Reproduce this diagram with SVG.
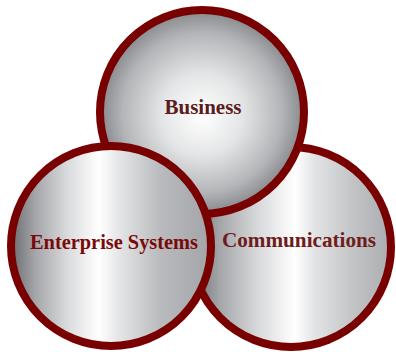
<svg xmlns="http://www.w3.org/2000/svg" width="396" height="352" viewBox="0 0 396 352">
<defs>
<radialGradient id="gBiz" cx="0.5" cy="0.5" r="0.5" fx="0.5" fy="0.52">
<stop offset="0" stop-color="#ffffff"/>
<stop offset="0.4" stop-color="#e4e5e6"/>
<stop offset="0.78" stop-color="#b3b5b8"/>
<stop offset="1" stop-color="#86888c"/>
</radialGradient>
<linearGradient id="gMetal" x1="0" y1="0" x2="1" y2="0">
<stop offset="0" stop-color="#6a6c70"/>
<stop offset="0.12" stop-color="#a3a5a8"/>
<stop offset="0.28" stop-color="#d9dadc"/>
<stop offset="0.44" stop-color="#ffffff"/>
<stop offset="0.55" stop-color="#e2e3e4"/>
<stop offset="0.75" stop-color="#b8babd"/>
<stop offset="1" stop-color="#a2a4a7"/>
</linearGradient>
<linearGradient id="gMetal2" x1="0" y1="0" x2="1" y2="0">
<stop offset="0" stop-color="#6a6c70"/>
<stop offset="0.14" stop-color="#a3a5a8"/>
<stop offset="0.34" stop-color="#d9dadc"/>
<stop offset="0.52" stop-color="#ffffff"/>
<stop offset="0.62" stop-color="#e2e3e4"/>
<stop offset="0.82" stop-color="#c0c2c4"/>
<stop offset="1" stop-color="#aaacaf"/>
</linearGradient>
</defs>
<style>
.ring{stroke:#780000;stroke-width:8}
.lbl{font-family:"Liberation Serif","Times New Roman",serif;font-weight:bold;font-size:20px;text-anchor:middle}
</style>
<g id="communications">
<circle class="ring" cx="291" cy="247" r="100" fill="url(#gMetal2)"/>
<text class="lbl" x="299" y="247" fill="#6e1c1c" textLength="154" lengthAdjust="spacingAndGlyphs">Communications</text>
</g>
<g id="business">
<circle class="ring" cx="202" cy="112" r="102" fill="url(#gBiz)"/>
<text class="lbl" x="203" y="114" fill="#5a1c1c" textLength="77" lengthAdjust="spacingAndGlyphs">Business</text>
</g>
<g id="enterprise-systems">
<circle class="ring" cx="111" cy="246" r="100" fill="url(#gMetal)"/>
<text class="lbl" x="114" y="249" fill="#7a0a0a" textLength="168" lengthAdjust="spacingAndGlyphs">Enterprise Systems</text>
</g>
<g id="connectors"/>
</svg>
